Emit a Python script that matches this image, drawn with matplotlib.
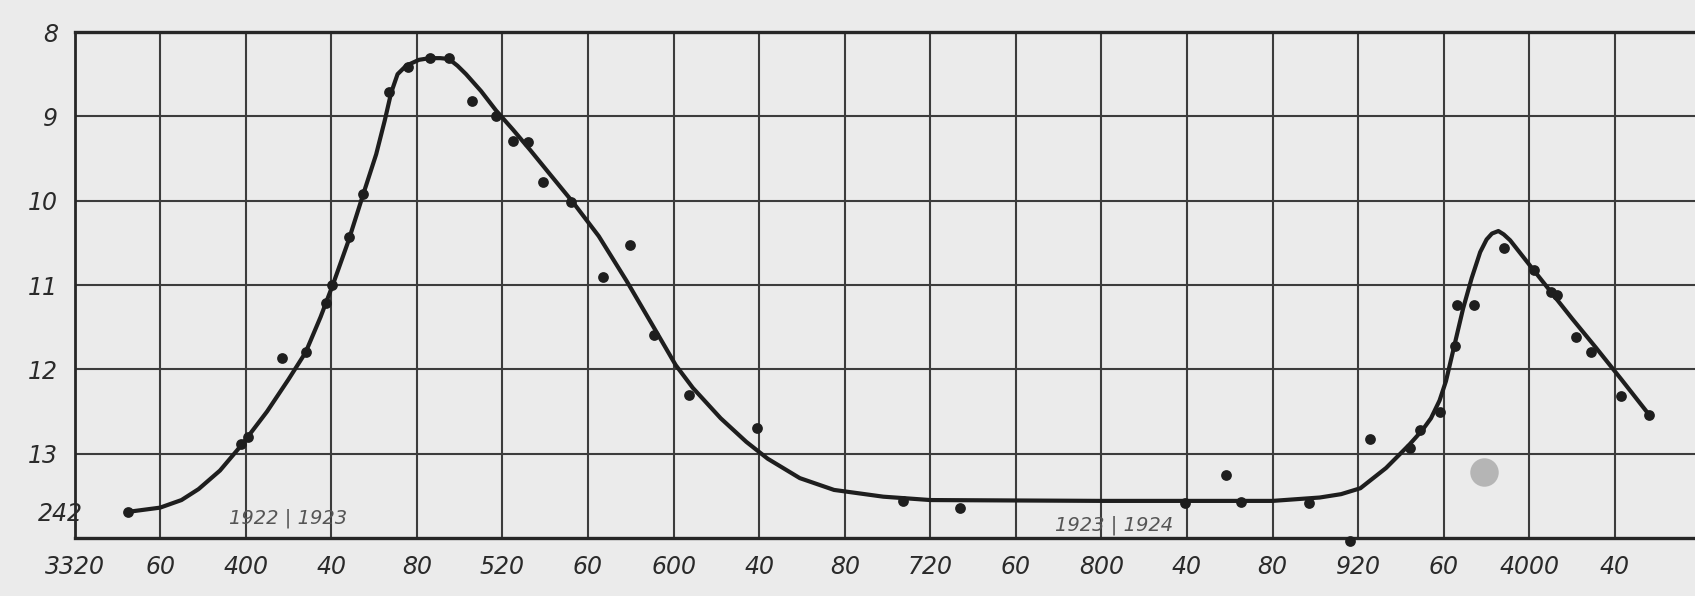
import matplotlib
matplotlib.use("Agg")
import matplotlib.pyplot as plt

# ---- data (JD - 2420000, magnitude) ----
curve_jd = [3345, 3360, 3370, 3378, 3388, 3398, 3410, 3420, 3428, 3435, 3441, 3448, 3455, 3461,
            3465, 3468, 3471, 3475, 3481, 3486, 3491, 3495, 3499, 3503, 3510, 3517,
            3525, 3533, 3542, 3553, 3565, 3578, 3590, 3601, 3609, 3622, 3634, 3644,
            3659, 3675, 3698, 3720, 3800, 3880, 3902, 3912, 3921, 3933, 3944, 3950,
            3954, 3958, 3961, 3965, 3969, 3973, 3977, 3980, 3982.5, 3985.5, 3988,
            3991, 4000, 4010, 4020, 4031, 4043, 4056]
curve_mag = [13.69, 13.64, 13.55, 13.42, 13.20, 12.90, 12.50, 12.12, 11.80, 11.38, 10.98, 10.48, 9.92, 9.45,
             9.05, 8.72, 8.50, 8.40, 8.33, 8.31, 8.31, 8.32, 8.40, 8.50, 8.70, 8.93,
             9.16, 9.40, 9.68, 10.02, 10.42, 10.95, 11.47, 11.95, 12.22, 12.58, 12.86, 13.06,
             13.29, 13.43, 13.51, 13.55, 13.56, 13.56, 13.52, 13.48, 13.41, 13.17, 12.89, 12.72,
             12.58, 12.37, 12.14, 11.71, 11.28, 10.92, 10.61, 10.46, 10.39, 10.36, 10.40,
             10.47, 10.76, 11.08, 11.40, 11.74, 12.12, 12.54]

obs_jd = [3345, 3398, 3401, 3417, 3428, 3437.5, 3440.5, 3448.5, 3455, 3467, 3476, 3486,
          3495, 3506, 3517, 3525, 3532, 3539, 3552, 3567, 3579.6, 3591, 3607, 3639,
          3707, 3734, 3839, 3858, 3865, 3897, 3916, 3925.5, 3944, 3949, 3958, 3965,
          3966, 3974, 3988, 4002, 4010, 4013, 4022, 4029, 4043, 4056]
obs_mag = [13.69, 12.88, 12.80, 11.86, 11.80, 11.21, 11.00, 10.43, 9.92, 8.71, 8.41, 8.31,
           8.31, 8.82, 9.00, 9.29, 9.31, 9.78, 10.02, 10.90, 10.53, 11.59, 12.30, 12.70,
           13.56, 13.65, 13.59, 13.25, 13.57, 13.59, 14.03, 12.83, 12.93, 12.72, 12.50, 11.72,
           11.24, 11.24, 10.56, 10.82, 11.08, 11.12, 11.62, 11.80, 12.32, 12.54]

# ink stain on the scanned page
stain_jd = [3979]
stain_mag = [13.22]

x_ticks = list(range(3320, 4041, 40))
x_tick_labels = ["3320", "60", "400", "40", "80", "520", "60", "600", "40", "80",
                 "720", "60", "800", "40", "80", "920", "60", "4000", "40"]
y_ticks = [8, 9, 10, 11, 12, 13]
y_tick_labels = ["8", "9", "10", "11", "12", "13"]

year_marks = [(3420, 13.77, "1922 | 1923"), (3806, 13.85, "1923 | 1924")]

# ---- figure ----
W, H = 1695, 596
bg = "#ebebeb"
ink = "#1e1e1e"
grid = "#3c3c3c"
fig = plt.figure(figsize=(W / 100, H / 100), dpi=100, facecolor=bg)
ax = fig.add_axes([74.5 / W, 1 - 538 / H, 1 - 74.5 / W, (538 - 32) / H])
ax.set_facecolor(bg)

ax.set_xlim(3320, 4077.4)
ax.set_ylim(14, 8)

ax.set_xticks(x_ticks)
ax.set_xticklabels(x_tick_labels)
ax.set_yticks(y_ticks)
ax.set_yticklabels(y_tick_labels)
ax.tick_params(length=0, pad=12, colors="#2a2a2a", labelsize=17)
for t in ax.get_xticklabels() + ax.get_yticklabels():
    t.set_fontstyle("italic")

ax.grid(True, color=grid, linewidth=1.5, zorder=1)
for s in ("top", "bottom"):
    ax.spines[s].set_linewidth(2.4)
    ax.spines[s].set_color("#262626")
ax.spines["left"].set_linewidth(2.0)
ax.spines["left"].set_color("#262626")
ax.spines["right"].set_visible(False)

ax.scatter(stain_jd, stain_mag, s=420, marker="o", color="#a8a8a8", alpha=0.8,
           linewidths=0, zorder=2)
ax.plot(curve_jd, curve_mag, color=ink, linewidth=3.0, solid_joinstyle="round",
        solid_capstyle="round", zorder=3)
ax.scatter(obs_jd, obs_mag, s=60, color=ink, zorder=4, clip_on=False, linewidths=0)

for jd, mag, txt in year_marks:
    ax.text(jd, mag, txt, ha="center", va="center", fontsize=14, style="italic",
            color="#555555", zorder=2)

fig.text(60 / W, 1 - 514 / H, "242", ha="center", va="center", fontsize=17,
         style="italic", color="#2a2a2a")

fig.savefig("out.png", dpi=100, facecolor=bg)
